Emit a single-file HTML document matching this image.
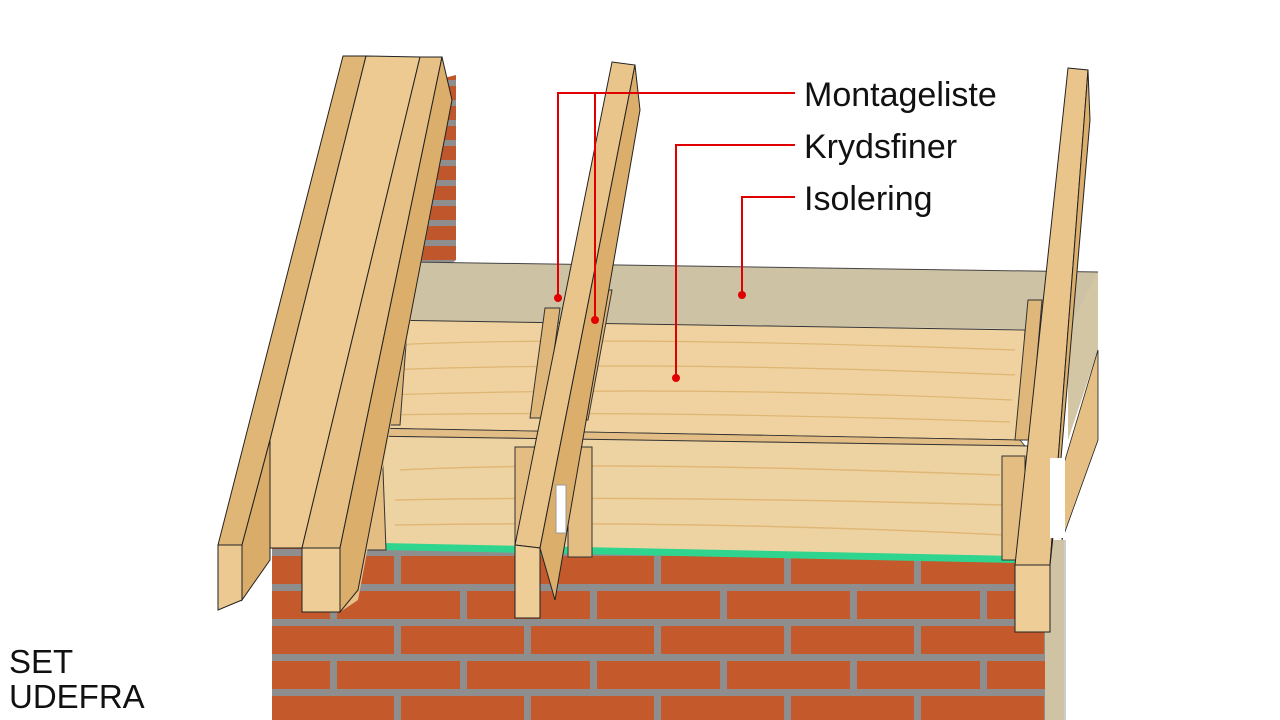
<!DOCTYPE html>
<html><head><meta charset="utf-8"><style>
html,body{margin:0;padding:0;background:#fff;}
svg{display:block}
text{font-family:"Liberation Sans",sans-serif;fill:#111;}
</style></head><body>
<svg width="1280" height="720" viewBox="0 0 1280 720" xmlns="http://www.w3.org/2000/svg">
<defs>
<pattern id="brick" x="267" y="584" width="130" height="70" patternUnits="userSpaceOnUse">
<rect width="130" height="70" fill="#c4592c"/>
<rect y="0" width="130" height="7" fill="#8e8e8e"/>
<rect y="35" width="130" height="7" fill="#8e8e8e"/>
<rect x="63" y="7" width="7" height="28" fill="#8e8e8e"/>
<rect x="0" y="42" width="4" height="28" fill="#8e8e8e"/>
<rect x="127" y="42" width="3" height="28" fill="#8e8e8e"/>
</pattern>
<pattern id="brick2" x="0" y="60" width="60" height="40" patternUnits="userSpaceOnUse">
<rect width="60" height="40" fill="#c0562b"/>
<rect y="0" width="60" height="6" fill="#8e8e8e"/>
<rect y="20" width="60" height="6" fill="#8e8e8e"/>
</pattern>
</defs>

<polygon points="444,78 456,75 456,260 410,300 415,240 430,150" fill="url(#brick2)"/>
<rect x="272" y="548" width="780" height="172" fill="url(#brick)"/>
<rect x="272" y="440" width="110" height="110" fill="url(#brick)"/>
<rect x="272" y="455" width="40" height="8" fill="#8e8e8e"/>
<rect x="272" y="490" width="40" height="7" fill="#8e8e8e"/>
<rect x="272" y="518" width="40" height="7" fill="#8e8e8e"/>
<rect x="1045" y="540" width="20" height="180" fill="#cfc3a3"/>
<line x1="1065" y1="540" x2="1065" y2="720" stroke="#ccc" stroke-width="2"/>

<polygon points="410,262 1098,272 1098,290 1072,330 402,320" fill="#cdc2a4"/>
<polygon points="1098,272 1098,350 1068,440 1068,330" fill="#d2c6a5"/>
<line x1="410" y1="262" x2="1098" y2="272" stroke="#444" stroke-width="1"/>

<polygon points="380,320 1025,330 1020,440 365,428" fill="#efd29f" stroke="#333" stroke-width="1"/>
<g stroke="#d9a960" stroke-width="1.2" fill="none" opacity="0.7">
<path d="M390,345 Q600,335 1015,350"/><path d="M385,370 Q650,360 1015,375"/>
<path d="M382,395 Q700,385 1012,400"/><path d="M380,415 Q650,410 1010,422"/>
</g>
<polygon points="365,428 1020,440 1025,446 365,436" fill="#e2bd85" stroke="#333" stroke-width="0.8"/>
<polygon points="368,436 1030,446 1030,560 382,545" fill="#eed3a2" stroke="#333" stroke-width="1"/>
<g stroke="#d9a55a" stroke-width="1.5" fill="none" opacity="0.6">
<path d="M400,470 Q600,460 1000,475"/><path d="M395,500 Q650,495 1005,505"/><path d="M395,525 Q700,520 1005,535"/>
</g>
<polygon points="382,543 1020,556 1020,563 382,550" fill="#2fd58e"/>

<g stroke="#333" stroke-width="1" fill="#dfb77a">
<polygon points="388,290 410,290 400,425 378,425"/>
<polygon points="362,418 380,418 380,430 362,430"/>
<polygon points="358,443 382,443 386,550 360,550" fill="#e3bd82"/>
<polygon points="545,308 560,308 545,418 530,418"/>
<polygon points="598,290 612,290 588,420 572,420"/>
<polygon points="515,447 538,447 538,552 515,552" fill="#e3bd82"/>
<polygon points="568,447 592,447 592,557 568,557" fill="#e3bd82"/>
<polygon points="1028,300 1042,300 1030,440 1015,440"/>
<polygon points="1002,456 1025,456 1025,560 1002,560" fill="#e3bd82"/>
</g>

<polygon points="343,56 365,56 420,57 442,57 452,100 358,600 340,612 302,612 302,548 268,548 270,440 242,545 242,600 218,610 218,545" fill="#e6c187"/>
<polygon points="343,56 366,56 270,440 242,545 218,545" fill="#dfb676" stroke="#222" stroke-width="1"/>
<polygon points="366,56 420,57 302,548 268,548 270,440" fill="#ecca92" stroke="#222" stroke-width="1"/>
<polygon points="420,57 442,57 340,548 302,548" fill="#e7c085" stroke="#222" stroke-width="1"/>
<polygon points="442,57 452,100 358,590 340,612 340,548" fill="#dbae6c" stroke="#222" stroke-width="1"/>
<polygon points="218,545 242,545 242,600 218,610" fill="#ebc991" stroke="#222" stroke-width="1"/>
<polygon points="242,545 270,440 270,560 242,600" fill="#d9ac6a" stroke="#222" stroke-width="1"/>
<polygon points="302,548 340,548 340,612 302,612" fill="#eecd96" stroke="#222" stroke-width="1"/>

<polygon points="612,62 635,65 540,548 515,545" fill="#e9c58b" stroke="#222" stroke-width="1"/>
<polygon points="635,65 640,110 555,600 540,548" fill="#dbae6c" stroke="#222" stroke-width="1"/>
<polygon points="515,545 540,548 540,618 515,618" fill="#eecd96" stroke="#222" stroke-width="1"/>
<rect x="556" y="485" width="10" height="48" fill="#fff" stroke="#999"/>

<polygon points="1068,68 1088,70 1050,565 1015,565" fill="#e9c58b" stroke="#222" stroke-width="1"/>
<polygon points="1088,70 1090,120 1060,470 1050,565" fill="#dbae6c" stroke="#222" stroke-width="1"/>
<polygon points="1015,565 1050,565 1050,632 1015,632" fill="#eecd96" stroke="#222" stroke-width="1"/>
<polygon points="1098,350 1098,440 1062,540 1062,470" fill="#e6bf85" stroke="#222" stroke-width="0.8"/>
<rect x="1050" y="458" width="15" height="80" fill="#fff"/>

<g stroke="#e00000" stroke-width="2" fill="none">
<polyline points="795,93 558,93 558,298"/>
<line x1="595" y1="93" x2="595" y2="320"/>
<polyline points="795,145 676,145 676,378"/>
<polyline points="795,197 742,197 742,295"/>
</g>
<g fill="#e00000">
<circle cx="558" cy="298" r="4"/><circle cx="595" cy="320" r="4"/>
<circle cx="676" cy="378" r="4"/><circle cx="742" cy="295" r="4"/>
</g>

<text x="804" y="106" font-size="34">Montageliste</text>
<text x="804" y="158" font-size="34">Krydsfiner</text>
<text x="804" y="210" font-size="34">Isolering</text>
<text x="9" y="673" font-size="33">SET</text>
<text x="9" y="708" font-size="33">UDEFRA</text>
</svg>
</body></html>
